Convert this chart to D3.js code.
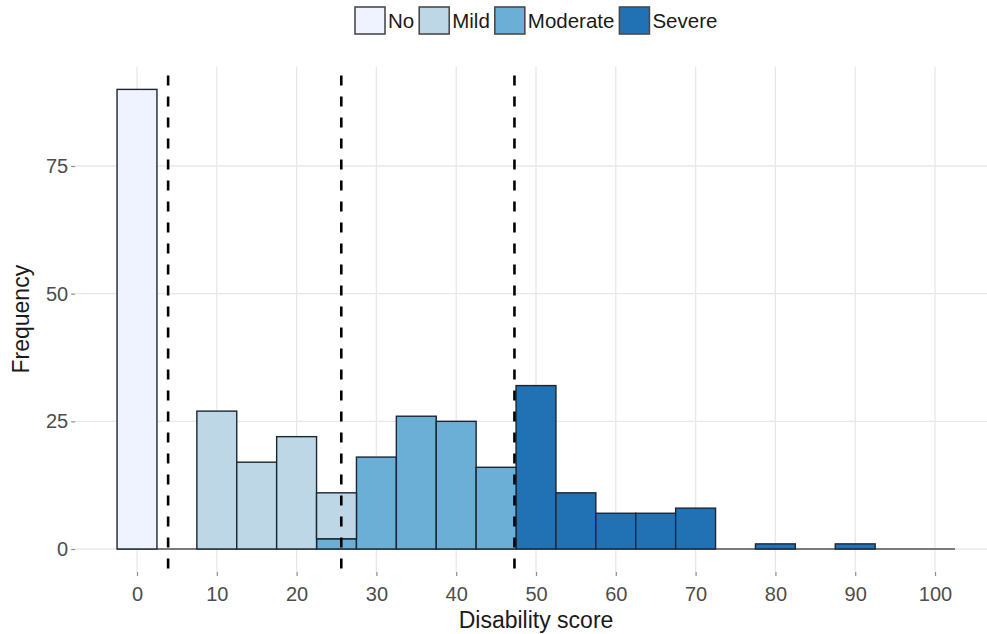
<!DOCTYPE html>
<html>
<head>
<meta charset="utf-8">
<script src="https://cdn.jsdelivr.net/npm/d3@7/dist/d3.min.js"></script>
<style>
  html, body { margin: 0; padding: 0; background: #fff; }
  svg { display: block; font-family: "Liberation Sans", Arial, sans-serif; }
</style>
</head>
<body>
<svg id="chart" width="987" height="634"></svg>
<script>
// Histogram bins (centres, width 5)
const binCenters = [0, 5, 10, 15, 20, 25, 30, 35, 40, 45, 50, 55, 60, 65, 70, 75, 80, 85, 90, 95, 100];
const binWidth = 5;

// Counts per severity group, one entry per bin
const noCounts       = [90, 0, 0, 0, 0, 0, 0, 0, 0, 0, 0, 0, 0, 0, 0, 0, 0, 0, 0, 0, 0];
const mildCounts     = [0, 0, 27, 17, 22, 9, 0, 0, 0, 0, 0, 0, 0, 0, 0, 0, 0, 0, 0, 0, 0];
const moderateCounts = [0, 0, 0, 0, 0, 2, 18, 26, 25, 16, 0, 0, 0, 0, 0, 0, 0, 0, 0, 0, 0];
const severeCounts   = [0, 0, 0, 0, 0, 0, 0, 0, 0, 0, 32, 11, 7, 7, 8, 0, 1, 0, 1, 0, 0];

const groups = ["No", "Mild", "Moderate", "Severe"];
const groupColors = ["#eff3ff", "#bdd7e7", "#6baed6", "#2171b5"];

// Category cut-off scores (dashed lines)
const cutoffs = [3.9, 25.6, 47.3];

const xTicks = [0, 10, 20, 30, 40, 50, 60, 70, 80, 90, 100];
const yTicks = [0, 25, 50, 75];

const xTitle = "Disability score";
const yTitle = "Frequency";

// ---- scales ----
const x = d3.scaleLinear().domain([0, 100]).range([137, 935]);
const y = d3.scaleLinear().domain([0, 75]).range([549, 166]);
const color = d3.scaleOrdinal().domain(groups).range(groupColors);

const panelLeft = x(-7.75), panelRight = x(107.75);
const panelTop = y(94.5), panelBottom = y(-4.5);

const svg = d3.select("#chart");

// ---- grid ----
const grid = svg.append("g");
grid.selectAll("line.gx").data(xTicks).join("line")
  .attr("x1", d => x(d)).attr("x2", d => x(d))
  .attr("y1", panelTop).attr("y2", panelBottom)
  .attr("stroke", "#e8e8e8").attr("stroke-width", 1.3);
grid.selectAll("line.gy").data(yTicks).join("line")
  .attr("x1", panelLeft).attr("x2", panelRight)
  .attr("y1", d => y(d)).attr("y2", d => y(d))
  .attr("stroke", "#e8e8e8").attr("stroke-width", 1.3);

// ---- baseline of empty bins ----
svg.append("line")
  .attr("x1", x(binCenters[0] - binWidth / 2))
  .attr("x2", x(binCenters[binCenters.length - 1] + binWidth / 2))
  .attr("y1", y(0)).attr("y2", y(0))
  .attr("stroke", "#7a7a7a").attr("stroke-width", 2);

// ---- stacked bars ----
const table = binCenters.map((c, i) => ({
  center: c,
  No: noCounts[i], Mild: mildCounts[i], Moderate: moderateCounts[i], Severe: severeCounts[i]
}));
// Severe at the bottom, No on top
const stack = d3.stack().keys(["Severe", "Moderate", "Mild", "No"]);
const series = stack(table);

const bars = svg.append("g");
series.forEach(s => {
  bars.append("g")
    .selectAll("rect")
    .data(s.filter(d => d[1] - d[0] > 0))
    .join("rect")
    .attr("x", d => x(d.data.center - binWidth / 2))
    .attr("width", d => x(d.data.center + binWidth / 2) - x(d.data.center - binWidth / 2))
    .attr("y", d => y(d[1]))
    .attr("height", d => y(d[0]) - y(d[1]))
    .attr("fill", color(s.key))
    .attr("stroke", "#1c2633")
    .attr("stroke-width", 1.4);
});

// ---- cut-off lines ----
svg.append("g").selectAll("line").data(cutoffs).join("line")
  .attr("x1", d => x(d)).attr("x2", d => x(d))
  .attr("y1", panelTop).attr("y2", panelBottom)
  .attr("stroke", "#000").attr("stroke-width", 2.6)
  .attr("stroke-dasharray", "10,11")
  .attr("stroke-dashoffset", 12);

// ---- axes ----
const xAxis = svg.append("g").attr("transform", `translate(0,${panelBottom})`)
  .call(d3.axisBottom(x).tickValues(xTicks).tickSize(4).tickPadding(11).tickFormat(d3.format("d")));
xAxis.select(".domain").remove();
xAxis.selectAll(".tick line").attr("stroke", "#8c8c8c").attr("stroke-width", 1.2);
xAxis.selectAll(".tick text").attr("fill", "#4d4d4d").attr("font-size", 20)
  .attr("font-family", "Liberation Sans, Arial, sans-serif");

const yAxis = svg.append("g").attr("transform", `translate(${panelLeft},0)`)
  .call(d3.axisLeft(y).tickValues(yTicks).tickSize(4).tickPadding(3).tickFormat(d3.format("d")));
yAxis.select(".domain").remove();
yAxis.selectAll(".tick line").attr("stroke", "#8c8c8c").attr("stroke-width", 1.2);
yAxis.selectAll(".tick text").attr("fill", "#4d4d4d").attr("font-size", 20)
  .attr("font-family", "Liberation Sans, Arial, sans-serif");

// ---- axis titles ----
svg.append("text")
  .attr("x", (x(-2.5) + x(102.5)) / 2)
  .attr("y", 628)
  .attr("text-anchor", "middle")
  .attr("font-size", 23).attr("fill", "#1a1a1a")
  .text(xTitle);

svg.append("text")
  .attr("transform", `translate(29,${(panelTop + panelBottom) / 2}) rotate(-90)`)
  .attr("text-anchor", "middle")
  .attr("font-size", 23).attr("fill", "#1a1a1a")
  .text(yTitle);

// ---- legend ----
const legend = svg.append("g");
let lx = 355;
const keyW = 30, keyH = 27, keyY = 7;
groups.forEach(g => {
  legend.append("rect")
    .attr("x", lx).attr("y", keyY).attr("width", keyW).attr("height", keyH)
    .attr("fill", color(g)).attr("stroke", "#4a4a4a").attr("stroke-width", 1.6);
  const t = legend.append("text")
    .attr("x", lx + keyW + 3).attr("y", keyY + keyH / 2 + 7)
    .attr("font-size", 20.5).attr("fill", "#1a1a1a")
    .text(g);
  lx += keyW + 3 + t.node().getComputedTextLength() + 5;
});
</script>
</body>
</html>
